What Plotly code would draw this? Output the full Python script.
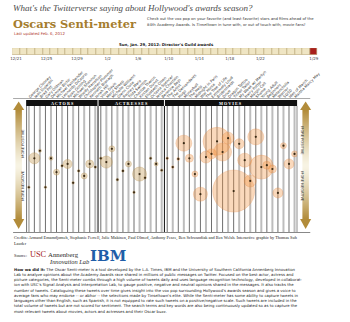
import plotly.graph_objects as go
import pandas as pd
import math

W, H = 350, 322

# ---------------- data ----------------
actors = ["George Clooney", "Jean Dujardin", "Brad Pitt", "Gary Oldman", "Demian Bichir",
          "Michael Fassbender", "Leonardo DiCaprio", "Ryan Gosling", "Michael Shannon",
          "Woody Harrelson", "Christopher Plummer", "Kenneth Branagh", "Jonah Hill"]
actor_sentiment = [-0.29, 0.17, 0.29, -0.29, 0.17, -0.05, 0.05, 0.08, -0.22, -0.03, -0.11, 0.08, 0.03]
actor_tweets = [300, 5400, 450, 300, 710, 1600, 300, 3600, 300, 300, 1600, 2850, 300]

actresses = ["Viola Davis", "Meryl Streep", "Michelle Williams", "Glenn Close", "Rooney Mara",
             "Tilda Swinton", "Charlize Theron", "Kirsten Dunst", "Elizabeth Olsen",
             "Octavia Spencer", "Jessica Chastain", "Berenice Bejo"]
actress_sentiment = [0.17, 0.11, 0.32, -0.17, -0.03, 0.08, -0.37, -0.08, -0.14, 0.17, 0.08, -0.02]
actress_tweets = [300, 6400, 1600, 300, 300, 1600, 300, 8700, 300, 300, 710, 300]

movies = ["The Artist", "The Descendants", "Hugo", "Moneyball", "The Help", "Midnight in Paris",
          "War Horse", "The Tree of Life", "Extremely Loud", "Bridesmaids", "Drive",
          "Dragon Tattoo", "Tinker Tailor", "My Week w/ Marilyn", "Harry Potter",
          "Margin Call", "Shame", "Young Adult", "Beginners", "Melancholia", "Warrior",
          "50/50", "Ides of March", "Martha Marcy May"]
movie_sentiment = [0.17, 0.03, 0.16, 0.41, 0.17, -0.08, -0.40, 0.19, 0.24, 0.44, 0.27, 0.49,
                   -0.35, 0.40, 0.14, -0.19, 0.51, 0.03, 0.06, 0.00, -0.38, 0.37, 0.08, 0.24]
movie_tweets = [300, 300, 400, 11400, 2850, 1600, 8700, 6400, 4450, 34800, 14400, 6400,
                78400, 4450, 8700, 6400, 11400, 25600, 2850, 2850, 4450, 1600, 4450, 1600]

timeline_start = "2011-12-21"
timeline_end = "2012-01-29"
timeline_tickvals = ["2011-12-21", "2011-12-25", "2011-12-29", "2012-01-02", "2012-01-06",
                     "2012-01-10", "2012-01-14", "2012-01-18", "2012-01-22", "2012-01-29"]
timeline_ticktext = ["12/21", "12/25", "12/29", "1/2", "1/6", "1/10", "1/14", "1/18", "1/22", "1/29"]
selected_day = "2012-01-29"

# ---------------- helpers ----------------
def px(x):
    return x / W

def py(y):
    return 1 - y / H

names = actors + actresses + movies
ncol = len(names)
n_act, n_acs = len(actors), len(actresses)

fig = go.Figure()
shapes = []
ann = []

DIAM = 0.15  # px diameter per sqrt(tweet)

def bubbles(cols, sent, tweets, fill, edge):
    order = sorted(range(len(cols)), key=lambda i: -tweets[i])
    fig.add_trace(go.Scatter(
        x=[cols[i] for i in order], y=[sent[i] for i in order], mode="markers",
        marker=dict(size=[DIAM * math.sqrt(tweets[i]) for i in order], sizemode="diameter",
                    color=fill, line=dict(color=edge, width=0.6)),
        hoverinfo="skip", xaxis="x", yaxis="y"))

cols_act = list(range(0, n_act))
cols_acs = list(range(n_act, n_act + n_acs))
cols_mov = list(range(n_act + n_acs, ncol))

bubbles(cols_act + cols_acs, actor_sentiment + actress_sentiment, actor_tweets + actress_tweets,
        "rgba(206,170,106,0.62)", "rgba(175,135,65,0.7)")
bubbles(cols_mov, movie_sentiment, movie_tweets,
        "rgba(242,152,72,0.52)", "rgba(226,128,56,0.6)")

# center dots
fig.add_trace(go.Scatter(
    x=cols_act + cols_acs + cols_mov,
    y=actor_sentiment + actress_sentiment + movie_sentiment,
    mode="markers", marker=dict(size=2.2, color="#3a2a14"),
    hoverinfo="skip", xaxis="x", yaxis="y"))

# invisible trace for the label axis
fig.add_trace(go.Scatter(x=list(range(ncol)), y=[0] * ncol, mode="markers",
                         marker=dict(opacity=0), hoverinfo="skip", xaxis="x3", yaxis="y"))

# timeline bars
days = pd.date_range(timeline_start, timeline_end, freq="D")
fig.add_trace(go.Bar(
    x=days, y=[1] * len(days), width=86400000,
    marker=dict(color=["#a8201c" if d == pd.Timestamp(selected_day) else "#efe5c3" for d in days],
                line=dict(color="#bfae80", width=0.7)),
    hoverinfo="skip", xaxis="x2", yaxis="y2"))

# ---------------- column lines ----------------
for i in range(ncol):
    if i % 2 == 0:
        col, w = "#bdbdbd", 2.0
    else:
        col, w = "#4a4a4a", 0.8
    shapes.append(dict(type="line", xref="x", yref="paper", x0=i, x1=i, y0=py(106), y1=py(232),
                       line=dict(color=col, width=w), layer="below"))
for b in [-0.5, n_act - 0.5, n_act + n_acs - 0.5, ncol - 0.5]:
    shapes.append(dict(type="line", xref="x", yref="paper", x0=b, x1=b, y0=py(106), y1=py(232),
                       line=dict(color="#222", width=1.1), layer="below"))

# horizontal rules
shapes.append(dict(type="line", xref="paper", yref="paper", x0=px(12), x1=px(333), y0=py(98.5), y1=py(98.5),
                   line=dict(color="#aaa", width=1)))
shapes.append(dict(type="line", xref="paper", yref="paper", x0=px(12), x1=px(333), y0=py(232.5), y1=py(232.5),
                   line=dict(color="#888", width=1)))

# header bar
shapes.append(dict(type="rect", xref="x", yref="paper", x0=-0.5, x1=ncol - 0.5, y0=py(106), y1=py(100),
                   fillcolor="#111", line=dict(width=0)))
for b in [n_act - 0.5, n_act + n_acs - 0.5]:
    shapes.append(dict(type="line", xref="x", yref="paper", x0=b, x1=b, y0=py(106), y1=py(100),
                       line=dict(color="#fff", width=1)))
for label, c in [("ACTORS", (n_act - 1) / 2), ("ACTRESSES", n_act + (n_acs - 1) / 2),
                 ("MOVIES", n_act + n_acs + (len(movies) - 1) / 2)]:
    ann.append(dict(text="<b>" + " ".join(label) + "</b>", x=c, xref="x", y=py(103.2), yref="paper",
                    showarrow=False, font=dict(family="Liberation Serif", size=4.2, color="#fff"),
                    xanchor="center", yanchor="middle"))

# ---------------- side arrows ----------------
gold = (178, 140, 58)
light = (248, 244, 228)

def grad_bar(x0, x1, ytop, ybot, ymid):
    n = int(ybot - ytop)
    for k in range(n):
        yc = ytop + k + 0.5
        if yc < ymid:
            t = (ymid - yc) / (ymid - ytop)
        else:
            t = (yc - ymid) / (ybot - ymid)
        t = min(1, max(0, t)) ** 1.3
        c = tuple(int(light[j] + (gold[j] - light[j]) * t) for j in range(3))
        shapes.append(dict(type="rect", xref="paper", yref="paper", x0=px(x0), x1=px(x1),
                           y0=py(ytop + k + 1.05), y1=py(ytop + k),
                           fillcolor="rgb(%d,%d,%d)" % c, line=dict(width=0)))

def tri(xc, yb, ya, half):
    path = "M %f %f L %f %f L %f %f Z" % (px(xc - half), py(yb), px(xc + half), py(yb), px(xc), py(ya))
    shapes.append(dict(type="path", xref="paper", yref="paper", path=path,
                       fillcolor="rgb(%d,%d,%d)" % gold, line=dict(width=0)))

for xc in [18, 328]:
    grad_bar(xc - 3.5, xc + 3.5, 110, 219, 166)
    tri(xc, 110, 101.5, 6)
    tri(xc, 219, 229, 6)

side_font = dict(family="DejaVu Sans", size=3.6, color="#333")
ann.append(dict(text="MORE POSITIVE", x=px(18), y=py(143), xref="paper", yref="paper", showarrow=False,
                textangle=-90, font=side_font))
ann.append(dict(text="MORE NEGATIVE", x=px(18), y=py(186), xref="paper", yref="paper", showarrow=False,
                textangle=-90, font=side_font))
ann.append(dict(text="MORE POSITIVE", x=px(328), y=py(141), xref="paper", yref="paper", showarrow=False,
                textangle=90, font=side_font))
ann.append(dict(text="MORE NEGATIVE", x=px(328), y=py(186), xref="paper", yref="paper", showarrow=False,
                textangle=90, font=side_font))

# ---------------- texts ----------------
def text(t, x, y, size, color="#222", family="DejaVu Sans", anchor="left"):
    ann.append(dict(text=t, x=px(x), y=py(y), xref="paper", yref="paper", showarrow=False,
                    xanchor=anchor, yanchor="middle", align="left",
                    font=dict(family=family, size=size, color=color)))

text("<i>What's the Twitterverse saying about Hollywood's awards season?</i>", 10, 8, 9,
     "#4a4a4a", "Liberation Serif")
text("<b>Oscars Senti-meter</b>", 10, 24, 11.4, "#a57d2e", "DejaVu Serif")
text("Check out the vox pop on your favorite (and least favorite) stars and films ahead of the",
     155, 19, 3.8, "#333")
text("84th Academy Awards. Is <i>Tinseltown</i> in tune with, or out of touch with, movie fans?",
     155, 24, 3.8, "#333")
text("Last updated Feb. 6, 2012", 11, 33.5, 3.9, "#b03a2e")
text("<b>Sun, Jan. 29, 2012: Director's Guild awards</b>", 124, 44, 3.9, "#222")

credits1 = ("Credits: Armand Emamdjomeh, Stephanie Ferrell, Julie Makinen, Paul Olmed, Anthony Pesce, "
            "Ben Schwandiak and Ben Welsh. Interactive graphic by Thomas Suh")
text(credits1, 11, 238, 4.3, "#222", "Liberation Serif")
text("Lauder", 11, 243.5, 4.3, "#222", "Liberation Serif")

text("Source:", 11, 255.5, 4.3, "#222", "Liberation Serif")
text("USC", 28.5, 254.5, 8.3, "#a3171b", "Liberation Serif")
text("Annenberg", 47.5, 254.5, 6.8, "#2a2a2a", "Liberation Serif")
text("<i>Innovation Lab</i>", 48.5, 261.5, 6.4, "#2a2a2a", "Liberation Serif")
text("<b>IBM</b>", 93, 255.5, 15, "#1f5ea8", "DejaVu Serif")

para = [
    "<b>How we did it:</b> The Oscar Senti-meter is a tool developed by the L.A. Times, IBM and the University of Southern California Annenberg Innovation",
    "Lab to analyze opinions about the Academy Awards race shared in millions of public messages on Twitter. Focused on the best actor, actress and",
    "picture categories, the Senti-meter combs through a high volume of tweets daily and uses language recognition technology, developed in collaborat-",
    "ion with USC's Signal Analysis and Interpretation Lab, to gauge positive, negative and neutral opinions shared in the messages. It also tracks the",
    "number of tweets. Cataloguing these tweets over time gives insight into the vox pop surrounding Hollywood's awards season and gives a voice to",
    "average fans who may endorse -- or abhor -- the selections made by Tinseltown's elite. While the Senti-meter has some ability to capture tweets in",
    "languages other than English, such as Spanish, it is not equipped to rate such tweets on a positive/negative scale. Such tweets are included in the",
    "total volume of tweets but are not scored for sentiment. The search terms and key words are also being continuously updated so as to capture the",
    "most relevant tweets about movies, actors and actresses and their Oscar buzz.",
]
for k, line in enumerate(para):
    text(line, 11, 269 + k * 5.25, 3.85, "#222")

# ---------------- layout ----------------
fig.update_layout(
    width=W, height=H, margin=dict(l=0, r=0, t=0, b=0),
    paper_bgcolor="white", plot_bgcolor="rgba(0,0,0,0)", showlegend=False,
    font=dict(family="DejaVu Sans"), bargap=0,
    xaxis=dict(domain=[px(26), px(319)], range=[-0.5, ncol - 0.5], visible=False, anchor="y"),
    yaxis=dict(domain=[py(232), py(106)], range=[-1, 1], visible=False),
    xaxis3=dict(domain=[px(26), px(319)], range=[-0.5, ncol - 0.5], overlaying="x", anchor="free",
                position=py(99.5), side="top", tickmode="array", tickvals=list(range(ncol)),
                ticktext=names, tickangle=-45, tickfont=dict(size=3.7, color="#333", family="DejaVu Sans"),
                showgrid=False, zeroline=False, showline=False, ticks=""),
    xaxis2=dict(domain=[px(11), px(341)], type="date", anchor="y2",
                range=[pd.Timestamp(timeline_start) - pd.Timedelta(hours=12),
                       pd.Timestamp(timeline_end) + pd.Timedelta(hours=12)],
                tickmode="array", tickvals=timeline_tickvals, ticktext=timeline_ticktext,
                tickfont=dict(size=4, color="#444"), showgrid=False, zeroline=False, ticks=""),
    yaxis2=dict(domain=[py(55), py(48)], range=[0, 1], visible=False),
    shapes=shapes, annotations=ann,
)

fig.write_html("out.html")
